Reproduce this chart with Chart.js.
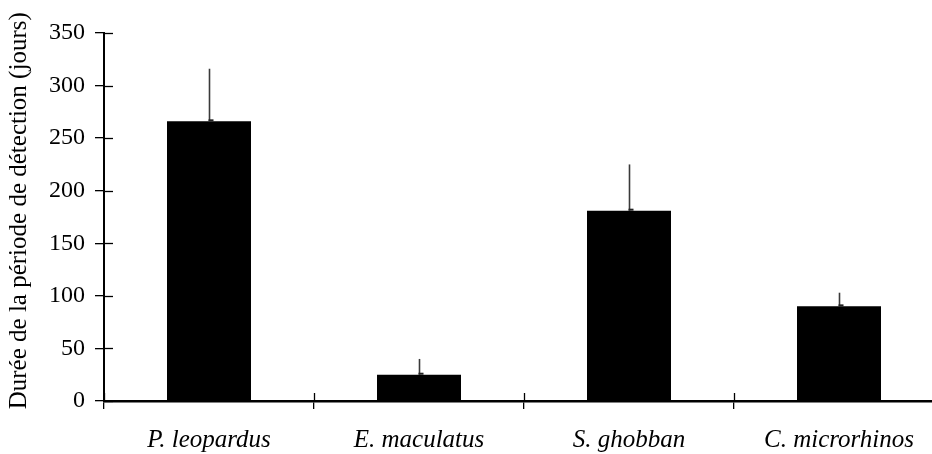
<!DOCTYPE html>
<html>
<head>
<meta charset="utf-8">
<script src="https://cdn.jsdelivr.net/npm/chart.js@4/dist/chart.umd.min.js"></script>
<style>
  html, body { margin: 0; padding: 0; background: #fff; overflow: hidden; }
  #wrap { width: 946px; height: 454px; }
  .probe { font-family: 'Liberation Serif'; position: absolute; left: -999px; }
</style>
</head>
<body>
<span class="probe">a</span><span class="probe" style="font-style:italic">a</span>
<div id="wrap"><canvas id="c"></canvas></div>
<script>
// Species and mean detection period (days), with upper standard error
const species = ['P. leopardus', 'E. maculatus', 'S. ghobban', 'C. microrhinos'];
const meanDays = [266, 25, 181, 90];
const errorDays = [50, 15, 44, 13];
const yTicks = [0, 50, 100, 150, 200, 250, 300, 350];

const SERIF = '"Liberation Serif", Tinos, "Times New Roman", Times, serif';

// Error bars above each bar plus the inner half of the crossing tick marks
const extras = {
  id: 'extras',
  afterDatasetsDraw(chart) {
    const ctx = chart.ctx;
    const y = chart.scales.y;
    const x = chart.scales.x;
    const area = chart.chartArea;
    const meta = chart.getDatasetMeta(0);
    ctx.save();
    // error bars
    meta.data.forEach((bar, i) => {
      const cx = Math.round(bar.x) + 0.5;
      const top = y.getPixelForValue(meanDays[i]);
      const errTop = y.getPixelForValue(meanDays[i] + errorDays[i]);
      ctx.strokeStyle = '#3a3a3a';
      ctx.lineWidth = 1.6;
      ctx.beginPath();
      ctx.moveTo(cx, top);
      ctx.lineTo(cx, errTop);
      ctx.stroke();
      ctx.fillStyle = '#222';
      ctx.fillRect(cx - 1, top - 2, 5, 2);
    });
    // inner tick halves on the y axis
    ctx.strokeStyle = '#000';
    ctx.lineWidth = 1.3;
    y.ticks.forEach((t) => {
      const py = Math.round(y.getPixelForValue(t.value)) + 0.5;
      ctx.beginPath();
      ctx.moveTo(area.left, py);
      ctx.lineTo(area.left + 9, py);
      ctx.stroke();
    });
    // inner tick halves at the category boundaries
    const step = x.getPixelForValue(1) - x.getPixelForValue(0);
    for (let i = 0; i < species.length; i++) {
      const px = Math.round(x.getPixelForValue(i) - step / 2) + 0.5;
      ctx.beginPath();
      ctx.moveTo(px, area.bottom);
      ctx.lineTo(px, area.bottom - 8);
      ctx.stroke();
    }
    ctx.restore();
  }
};

function draw() {
  new Chart(document.getElementById('c'), {
    type: 'bar',
    data: {
      labels: species,
      datasets: [{
        data: meanDays,
        backgroundColor: '#000',
        borderWidth: 0,
        categoryPercentage: 1.0,
        barPercentage: 0.4
      }]
    },
    options: {
      responsive: true,
      maintainAspectRatio: false,
      animation: false,
      devicePixelRatio: 1,
      layout: { padding: { top: 33, right: 2, bottom: 0, left: 0 } },
      plugins: { legend: { display: false }, tooltip: { enabled: false } },
      scales: {
        x: {
          offset: true,
          grid: { display: true, offset: true, drawOnChartArea: false, drawTicks: true, tickLength: 8, color: '#000', lineWidth: 1.3 },
          border: { display: true, color: '#000', width: 2.5 },
          ticks: { color: '#000', padding: 16, maxRotation: 0, autoSkip: false,
                   font: { family: SERIF, size: 25, style: 'italic' } },
          afterFit(s) { s.height = 53; }
        },
        y: {
          min: 0,
          max: 350,
          afterBuildTicks(s) { s.ticks = yTicks.map(v => ({ value: v })); },
          grid: { display: true, drawOnChartArea: false, drawTicks: true, tickLength: 9, color: '#000', lineWidth: 1.3 },
          border: { display: true, color: '#000', width: 2 },
          ticks: { color: '#000', padding: 10, font: { family: SERIF, size: 24 } },
          title: {
            display: true,
            // two leading no-break spaces nudge the rotated title slightly upward
            text: '\u00A0\u00A0Durée de la période de détection (jours)',
            color: '#000',
            padding: { top: 4, bottom: 0 },
            font: { family: SERIF, size: 25 }
          },
          afterFit(s) { s.width = 104; }
        }
      }
    },
    plugins: [extras]
  });
}

Promise.all([
  document.fonts.load('24px "Liberation Serif"'),
  document.fonts.load('italic 24px "Liberation Serif"')
]).then(draw, draw);
</script>
</body>
</html>
